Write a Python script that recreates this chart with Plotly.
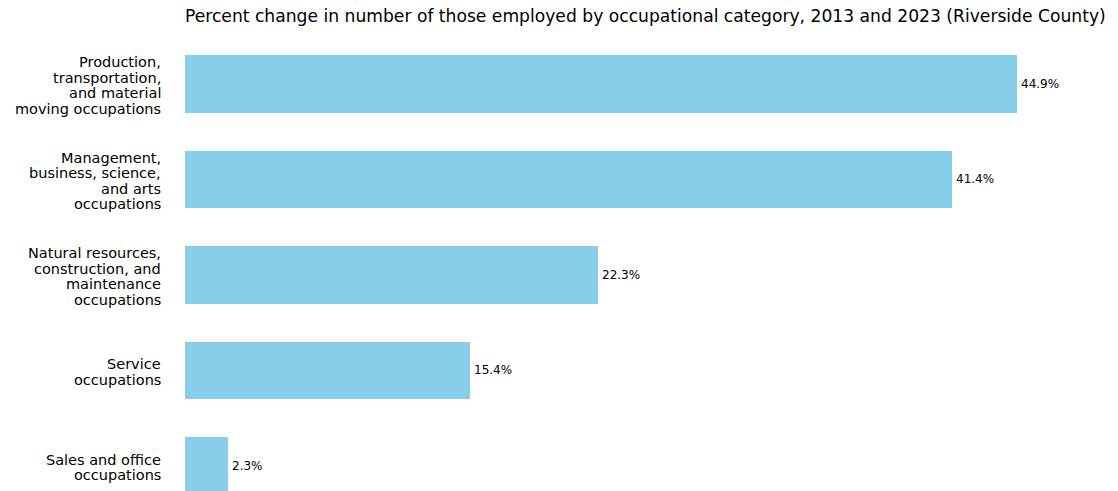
import plotly.graph_objects as go

# data (bottom to top, like a matplotlib barh)
categories = [
    "Sales and office\noccupations",
    "Service\noccupations",
    "Natural resources,\nconstruction, and\nmaintenance\noccupations",
    "Management,\nbusiness, science,\nand arts\noccupations",
    "Production,\ntransportation,\nand material\nmoving occupations",
]
pct_change = [2.3, 15.4, 22.3, 41.4, 44.9]
value_labels = [f"{v:.1f}%" for v in pct_change]

title = ("Percent change in number of those employed by occupational category, "
         "2013 and 2023 (Riverside County)")

FONT = "DejaVu Sans"
BAR_COLOR = "#87CEEB"
LINE_H = 15.4
PAGE_PAD = 8  # browser body margin, figure gets shifted by this much

fig = go.Figure()
fig.add_trace(go.Bar(
    x=pct_change,
    y=categories,
    orientation="h",
    width=0.6,
    marker=dict(color=BAR_COLOR, line=dict(width=0)),
    hoverinfo="skip",
))

annotations = []
# category labels, one annotation per line so the line spacing stays tight
for cat in categories:
    lines = cat.split("\n")
    n = len(lines)
    for i, line in enumerate(lines):
        annotations.append(dict(
            x=0, xref="paper", xanchor="right", xshift=-22,
            y=cat, yref="y", yanchor="middle",
            yshift=((n - 1) / 2 - i) * LINE_H - 1.5,
            text=line, showarrow=False,
            font=dict(family=FONT, size=14.5, color="#000000"),
        ))

# value labels at the end of each bar
for cat, v, lab in zip(categories, pct_change, value_labels):
    annotations.append(dict(
        x=v, xref="x", xanchor="left", xshift=2,
        y=cat, yref="y", yanchor="middle",
        text=lab, showarrow=False,
        font=dict(family=FONT, size=12, color="#000000"),
    ))

W, H = 1118 - PAGE_PAD, 491 - PAGE_PAD
fig.update_layout(
    width=W,
    height=H,
    margin=dict(l=185 - PAGE_PAD, r=0, t=33 - PAGE_PAD, b=0),
    paper_bgcolor="white",
    plot_bgcolor="white",
    showlegend=False,
    bargap=0,
    title=dict(
        text=title,
        x=(185 - PAGE_PAD) / W, xanchor="left", xref="container",
        y=1 - (16 - PAGE_PAD) / H, yanchor="middle", yref="container",
        font=dict(family=FONT, size=17.15, color="#000000"),
    ),
    xaxis=dict(range=[0, 50.35], visible=False),
    yaxis=dict(
        type="category",
        categoryorder="array",
        categoryarray=categories,
        range=[-0.262, 4.534],
        visible=False,
    ),
    annotations=annotations,
    font=dict(family=FONT),
)

fig.write_html("out.html")
